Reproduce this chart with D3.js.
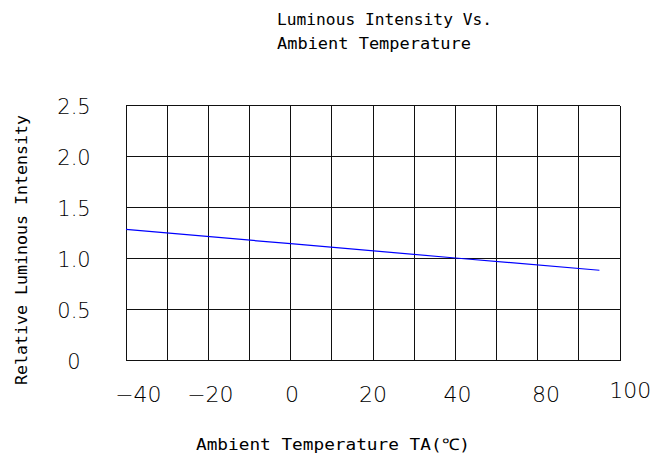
<!DOCTYPE html>
<html>
<head>
<meta charset="utf-8">
<script src="https://cdn.jsdelivr.net/npm/d3@7"></script>
<style>
  body { margin: 0; background: #fff; }
  svg { display: block; }
  .grid line { stroke: #111; stroke-width: 1; shape-rendering: crispEdges; }
  .tick-label { font-family: "DejaVu Sans", sans-serif; font-weight: 200; fill: #000; }
  .mono { font-family: "DejaVu Sans Mono", "Liberation Mono", monospace; fill: #000; }
</style>
</head>
<body>
<div id="container"></div>
<script>
// curve
var temps = [-40, 0, 40, 75];
var intensity = [1.285, 1.145, 1.005, 0.885];

// x tick labels, and where they sit on the temperature axis
var xTickLabels = ["\u221240", "\u221220", "0", "20", "40", "80", "100"];
var xTickPos = [-37, -19.5, 0.3, 20, 40.5, 62, 82.5];
var yTickValues = [0, 0.5, 1.0, 1.5, 2.0, 2.5];
var yTickLabels = ["0", "0.5", "1.0", "1.5", "2.0", "2.5"];

var width = 671, height = 456;

var svg = d3.select("#container")
  .append("svg")
  .attr("width", width)
  .attr("height", height);

var x = d3.scaleLinear().domain([-40, 80]).range([126, 620]);
var y = d3.scaleLinear().domain([0, 2.5]).range([360.5, 105.5]);

var grid = svg.append("g").classed("grid", true);

grid.selectAll(".vline")
  .data(d3.range(-40, 81, 10))
  .enter().append("line")
    .classed("vline", true)
    .attr("x1", function(d) { return x(d); })
    .attr("x2", function(d) { return x(d); })
    .attr("y1", y(0))
    .attr("y2", y(2.5));

grid.selectAll(".hline")
  .data(yTickValues)
  .enter().append("line")
    .classed("hline", true)
    .attr("x1", x(-40))
    .attr("x2", x(80))
    .attr("y1", function(d) { return y(d); })
    .attr("y2", function(d) { return y(d); });

// the curve
var pts = temps.map(function(t, i) { return [t, intensity[i]]; });
svg.append("path")
  .datum(pts)
  .attr("fill", "none")
  .attr("stroke", "#0000ff")
  .attr("stroke-width", 1.2)
  .attr("d", d3.line()
    .x(function(d) { return x(d[0]); })
    .y(function(d) { return y(d[1]); }));

// y tick labels
svg.selectAll(".ylab")
  .data(yTickValues)
  .enter().append("text")
    .classed("tick-label", true)
    .attr("x", 74)
    .attr("y", function(d) { return y(d) + 1; })
    .attr("dy", "0.36em")
    .attr("text-anchor", "middle")
    .style("font-size", "21px")
    .text(function(d, i) { return yTickLabels[i]; });

// x tick labels
svg.selectAll(".xlab")
  .data(xTickPos)
  .enter().append("text")
    .classed("tick-label", true)
    .attr("x", function(d) { return x(d); })
    .attr("y", function(d, i) { return i == 6 ? 398 : 401.5; })
    .attr("text-anchor", "middle")
    .style("font-size", "22px")
    .text(function(d, i) { return xTickLabels[i]; });

// titles
svg.append("text")
  .classed("mono", true)
  .attr("x", 277).attr("y", 25)
  .attr("textLength", 215).attr("lengthAdjust", "spacingAndGlyphs")
  .style("font-size", "15px")
  .text("Luminous Intensity Vs.");

svg.append("text")
  .classed("mono", true)
  .attr("x", 277).attr("y", 49)
  .attr("textLength", 194).attr("lengthAdjust", "spacingAndGlyphs")
  .style("font-size", "15px")
  .text("Ambient Temperature");

svg.append("text")
  .classed("mono", true)
  .attr("x", 196).attr("y", 450)
  .attr("textLength", 274).attr("lengthAdjust", "spacingAndGlyphs")
  .style("font-size", "16px")
  .text("Ambient Temperature TA(\u2103)");

svg.append("text")
  .classed("mono", true)
  .attr("transform", "translate(27,385) rotate(-90)")
  .attr("textLength", 270).attr("lengthAdjust", "spacingAndGlyphs")
  .style("font-size", "16px")
  .text("Relative Luminous Intensity");
</script>
</body>
</html>
